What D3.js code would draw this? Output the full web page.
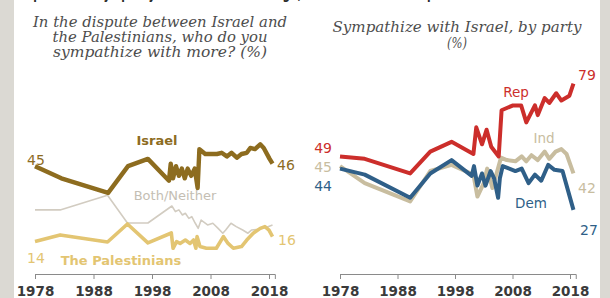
<!DOCTYPE html>
<html>
<head>
<meta charset="utf-8">
<script src="https://cdn.jsdelivr.net/npm/d3@7"></script>
<style>
  body { margin: 0; background: #fff; }
  svg { display: block; }
  .axis path, .axis line { stroke: #8a8a8a; }
  .axis text { font-family: "DejaVu Sans", sans-serif; font-weight: bold; font-size: 13.5px; fill: #3a3a3a; }
</style>
</head>
<body>
<div id="graf"></div>
<script>
// ticks shared by both panels
const ticks = [1978, 1988, 1998, 2008, 2018]

// left panel: [year, %]
const israel = [[1978,45],[1982.5,40],[1990.5,34],[1993.9,45],[1997.3,48],[2000.9,39],[2001.2,46],[2001.6,40],
  [2002.1,45],[2002.6,41],[2003.1,44],[2003.6,40],[2004.1,44],[2004.7,41],[2005.3,44],[2005.8,36],[2006.1,52],
  [2007.1,50],[2009.1,50],[2009.9,50.5],[2010.8,49],[2011.6,50.5],[2012.5,48.5],[2013.3,50],[2014.2,50.5],
  [2014.8,52.5],[2015.6,52],[2016.5,54],[2017.1,52.5],[2018.1,48],[2018.6,46]]
const palestinians = [[1978,14],[1982.3,16.7],[1990.4,13.8],[1993.8,21.2],[1997.3,13.4],[2001.3,17.5],[2001.6,11.2],
  [2002.2,13.9],[2002.8,13.2],[2003.7,14.6],[2004.5,13.2],[2005.1,14.6],[2005.5,11.2],[2005.7,16],[2006.2,11.9],
  [2007.3,11.2],[2009,11.2],[2010.2,16],[2011,13.2],[2011.9,11.2],[2013.3,11.9],[2014.2,14.6],[2015.3,17.4],
  [2016.5,19.4],[2017.3,20.1],[2018,18.7],[2018.6,16]]
const bothNeither = [[1978,27],[1982.3,27],[1990.4,33],[1993.8,21.6],[1997.3,21.6],[2001.4,28.6],[2002,26.3],
  [2002.6,27],[2003.2,24.9],[2003.7,25.6],[2004.3,23.5],[2004.8,24.2],[2005.4,21.5],[2005.9,19.4],[2006.4,22.8],
  [2007.5,20.8],[2008.4,21.5],[2009.3,19.4],[2010.1,17.4],[2010.6,18.7],[2011.5,21.5],[2012.4,20.1],[2013.5,18.7],
  [2014.4,17.4],[2015,18.7],[2016.2,19],[2017.5,19.8],[2018.6,20.8]]

// right panel: [year, %]
const rep = [[1978,49],[1982.3,48],[1990.2,42],[1993.7,51],[1997.4,55],[2001.2,50],[2001.7,61],[2002.7,54],
  [2003.5,60],[2004.3,53],[2005.6,49],[2006.1,68],[2008.1,70],[2009.5,70],[2010.4,63],[2011.9,70],[2012.4,66],
  [2013.6,73],[2014.4,71],[2015.6,75],[2016.5,72],[2017.9,74],[2018.6,79]]
const dem = [[1978,44],[1982.3,41.5],[1990.2,32],[1993.7,42],[1997.4,47.5],[2000.9,41],[2001.3,45],[2001.9,37],
  [2002.7,42],[2003.3,37],[2004.2,43],[2004.8,40],[2005.5,32],[2005.8,40],[2006.3,45],[2008.5,43],[2009.6,44],
  [2010.8,38],[2011.9,41.5],[2013,39],[2014.2,45.5],[2015.3,43.5],[2016.7,43],[2018.6,27]]
const ind = [[1978,45],[1982.3,38],[1990.2,30.5],[1993.7,43],[1997.4,45.5],[2001.2,41.5],[2001.9,32.5],[2003,38],
  [2003.6,44],[2004.5,36],[2005,40],[2006,48.5],[2007,47.5],[2008.5,47],[2009.6,49],[2010.4,47],[2011.3,49.5],
  [2012.4,47.5],[2013.6,51],[2014.4,48],[2015.5,51],[2016.5,52],[2017.4,50],[2018.6,42]]

const anchoTotal = 610
const altoTotal = 298

const svg = d3.select("#graf")
  .append("svg")
  .attr("width", anchoTotal)
  .attr("height", altoTotal)

// side bars
svg.append("rect").attr("x", 0).attr("y", 0).attr("width", 14).attr("height", altoTotal).attr("fill", "#dbd9d3")
svg.append("rect").attr("x", 600).attr("y", 0).attr("width", 10).attr("height", altoTotal).attr("fill", "#dbd9d3")

// cut-off headline at the very top (only its lower edge shows)
svg.append("text")
  .attr("x", 18).attr("y", -1)
  .attr("textLength", 440).attr("lengthAdjust", "spacingAndGlyphs")
  .style("font-family", "DejaVu Sans").style("font-weight", "bold").style("font-size", "16px")
  .attr("fill", "#2a2a2a")
  .text("Republicans' sympathy for Israel at a new high; Democrats' at a low point")

// titles
const titulo = (lines, cx) => {
  lines.forEach(([t, y, w]) => {
    svg.append("text")
      .attr("x", cx).attr("y", y)
      .attr("text-anchor", "middle")
      .attr("textLength", w).attr("lengthAdjust", "spacingAndGlyphs")
      .style("font-family", "DejaVu Serif").style("font-style", "italic").style("font-size", "14.5px")
      .attr("fill", "#4d4d4d")
      .text(t)
  })
}
titulo([["In the dispute between Israel and", 27, 254], ["the Palestinians, who do you", 41.5, 215],
  ["sympathize with more? (%)", 56.5, 214]], 160)
titulo([["Sympathize with Israel, by party", 32, 249], ["(%)", 48, 20]], 457)

// scales
const xL = d3.scaleLinear().domain([1978, 2019]).range([35, 35 + 41 * 5.85])
const xR = d3.scaleLinear().domain([1978, 2019]).range([340, 340 + 41 * 5.75])
const y = d3.scaleLinear().domain([0, 80]).range([275.5, 81.1])

const axis = (x) => d3.axisBottom(x).tickValues(ticks).tickFormat(d3.format("d"))
  .tickSizeInner(5).tickSizeOuter(5).tickPadding(7)
svg.append("g").attr("class", "axis").attr("transform", "translate(0, 274)").call(axis(xL))
svg.append("g").attr("class", "axis").attr("transform", "translate(0, 274)").call(axis(xR))

const serie = (data, x, color, width) => {
  svg.append("path")
    .datum(data)
    .attr("fill", "none")
    .attr("stroke", color)
    .attr("stroke-width", width)
    .attr("stroke-linejoin", "round")
    .attr("d", d3.line().x((d) => x(d[0])).y((d) => y(d[1])))
}

serie(bothNeither, xL, "#d2ccc1", 1.6)
serie(palestinians, xL, "#e3c572", 3.6)
serie(israel, xL, "#8d6c1f", 4.4)

serie(ind, xR, "#c8bd9f", 4)
serie(dem, xR, "#2f5f88", 4)
serie(rep, xR, "#cc2e2b", 4)

// labels
const etiqueta = (t, x, yy, color, opts = {}) => {
  svg.append("text")
    .attr("x", x).attr("y", yy)
    .attr("text-anchor", opts.anchor || "start")
    .style("font-family", "DejaVu Sans")
    .style("font-size", (opts.size || 14) + "px")
    .style("font-weight", opts.bold ? "bold" : "normal")
    .attr("fill", color)
    .text(t)
}

etiqueta("45", 27, 165, "#8d6c1f")
etiqueta("46", 277, 170, "#8d6c1f")
etiqueta("Israel", 157, 145, "#8d6c1f", { anchor: "middle", bold: true, size: 13 })
etiqueta("Both/Neither", 175, 200, "#c4beb3", { anchor: "middle", size: 13 })
etiqueta("14", 27, 263, "#e3c572")
etiqueta("16", 278, 245, "#e3c572")
etiqueta("The Palestinians", 121, 265, "#e3c572", { anchor: "middle", bold: true, size: 13 })

etiqueta("49", 332, 153, "#cc2e2b", { anchor: "end" })
etiqueta("45", 332, 172, "#c8bd9f", { anchor: "end" })
etiqueta("44", 332, 191, "#2f5f88", { anchor: "end" })
etiqueta("79", 578, 80, "#cc2e2b")
etiqueta("42", 578, 193, "#c8bd9f")
etiqueta("27", 580, 235, "#2f5f88")
etiqueta("Rep", 516, 97, "#cc2e2b", { anchor: "middle", size: 13.5 })
etiqueta("Ind", 544, 143, "#c8bd9f", { anchor: "middle", size: 13.5 })
etiqueta("Dem", 531, 208, "#2f5f88", { anchor: "middle", size: 13.5 })
</script>
</body>
</html>
